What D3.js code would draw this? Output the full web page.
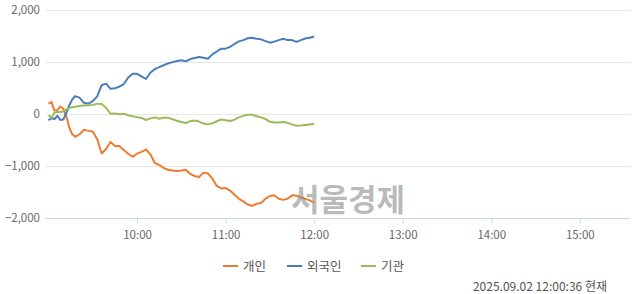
<!DOCTYPE html>
<html>
<head>
<meta charset="utf-8">
<script src="https://cdn.jsdelivr.net/npm/d3@7"></script>
<style>
  body { margin: 0; background: #fff; }
  svg { display: block; font-family: "Malgun Gothic", "Noto Sans CJK KR", sans-serif; }
</style>
</head>
<body>
<div class="chart"></div>
<script>
// minutes after 09:00
const minutes = [0, 2, 4, 6, 8, 10, 12, 14, 16, 18, 21, 24, 27, 30, 33, 36, 39, 42, 45, 48,
  51, 54, 57, 60, 63, 66, 69, 72, 75, 78, 81, 84, 87, 90, 93, 96, 99, 102, 105, 108,
  111, 114, 117, 120, 123, 126, 129, 132, 135, 138, 141, 144, 147, 150, 153, 156, 159, 162, 165, 168,
  171, 174, 177, 180];

const individual = [195, 225, 60, 70, 140, 100, -40, -260, -390, -445, -395, -310, -330, -340, -490, -765, -680, -545, -620, -620,
  -700, -770, -830, -770, -735, -690, -780, -950, -985, -1045, -1080, -1095, -1105, -1095, -1080, -1160, -1200, -1220, -1135, -1150,
  -1250, -1390, -1440, -1430, -1480, -1560, -1640, -1690, -1750, -1775, -1735, -1720, -1640, -1585, -1570, -1640, -1660, -1640, -1570, -1580,
  -1610, -1640, -1670, -1715];

const foreign = [-125, -85, -100, -40, -120, -110, 10, 160, 270, 340, 310, 210, 195, 245, 335, 550, 580, 480, 490, 525,
  570, 700, 770, 770, 720, 670, 790, 860, 900, 935, 970, 995, 1015, 1030, 1010, 1055, 1075, 1095, 1080, 1060,
  1145, 1200, 1255, 1255, 1290, 1345, 1395, 1420, 1455, 1465, 1445, 1435, 1400, 1370, 1390, 1420, 1445, 1420, 1420, 1385,
  1420, 1450, 1465, 1490];

const institution = [-30, -75, 20, 35, 35, 45, 80, 115, 125, 135, 150, 160, 165, 170, 195, 190, 115, 0, 5, -10,
  0, -30, -50, -65, -80, -120, -90, -70, -95, -75, -75, -105, -135, -160, -180, -145, -130, -150, -190, -205,
  -185, -145, -110, -125, -140, -115, -70, -40, -20, -20, -50, -70, -100, -155, -170, -170, -160, -175, -205, -230,
  -225, -215, -205, -195];

const seriesNames = ['개인', '외국인', '기관'];
const seriesColors = ['#ed7d31', '#4a7ebb', '#9bbb59'];
const yTicks = [-2000, -1000, 0, 1000, 2000];
const xTicks = [60, 120, 180, 240, 300, 360];
const xTickLabels = ['10:00', '11:00', '12:00', '13:00', '14:00', '15:00'];
const stamp = '2025.09.02 12:00:36 현재';

const W = 640, H = 294;
const PLOT_LEFT = 46, PLOT_RIGHT = 630, PLOT_TOP = 10, PLOT_BOTTOM = 217.5;

const svg = d3.select('.chart').append('svg').attr('width', W).attr('height', H);

const x = d3.scaleLinear().domain([-1.7, 394]).range([PLOT_LEFT, PLOT_RIGHT]);
const y = d3.scaleLinear().domain([-2000, 2000]).range([PLOT_BOTTOM, PLOT_TOP]);

// grid
svg.append('g')
  .selectAll('line')
  .data(yTicks.filter(d => d !== -2000))
  .join('line')
  .attr('x1', PLOT_LEFT).attr('x2', PLOT_RIGHT)
  .attr('y1', d => Math.round(y(d)) + 0.5).attr('y2', d => Math.round(y(d)) + 0.5)
  .attr('stroke', '#e6e6e6');

// y labels
svg.append('g')
  .selectAll('text')
  .data(yTicks)
  .join('text')
  .attr('x', 40)
  .attr('y', d => y(d) + 4)
  .attr('text-anchor', 'end')
  .attr('font-size', 11.5)
  .attr('fill', '#666')
  .text(d => d3.format(',')(d));

// x axis
var xAxis = svg.append('g')
  .attr('transform', 'translate(0,' + (Math.round(PLOT_BOTTOM) + 0.5) + ')')
  .call(d3.axisBottom(x).tickValues(xTicks).tickSize(5).tickFormat((d, i) => xTickLabels[i]));
xAxis.select('.domain').attr('stroke', '#ccd6eb').attr('d', 'M' + PLOT_LEFT + ',0H' + PLOT_RIGHT);
xAxis.selectAll('.tick line').attr('stroke', '#ccd6eb');
xAxis.selectAll('.tick text')
  .attr('fill', '#666').attr('font-size', 11.5).attr('dy', '1.1em')
  .attr('font-family', '"Malgun Gothic", "Noto Sans CJK KR", sans-serif');

// lines
var line = d3.line()
  .x((d, i) => x(minutes[i]))
  .y(d => y(d));

[individual, foreign, institution].forEach(function (vals, k) {
  svg.append('path')
    .datum(vals)
    .attr('d', line)
    .attr('fill', 'none')
    .attr('stroke', seriesColors[k])
    .attr('stroke-width', 2)
    .attr('stroke-linejoin', 'round');
});

// watermark
svg.append('text')
  .attr('x', 348).attr('y', 211)
  .attr('text-anchor', 'middle')
  .attr('font-size', 31)
  .attr('font-weight', 'bold')
  .attr('fill', '#8c8c8c')
  .attr('fill-opacity', 0.6)
  .text('서울경제');

// legend
var legendX = [223, 287, 361];
var legend = svg.append('g');
seriesNames.forEach(function (name, k) {
  legend.append('line')
    .attr('x1', legendX[k]).attr('x2', legendX[k] + 15)
    .attr('y1', 266).attr('y2', 266)
    .attr('stroke', seriesColors[k]).attr('stroke-width', 2);
  legend.append('text')
    .attr('x', legendX[k] + 20).attr('y', 270.5)
    .attr('font-size', 12.5)
    .attr('fill', '#555')
    .text(name);
});

svg.append('text')
  .attr('x', 607).attr('y', 291)
  .attr('text-anchor', 'end')
  .attr('font-size', 12)
  .attr('fill', '#555')
  .text(stamp);
</script>
</body>
</html>
